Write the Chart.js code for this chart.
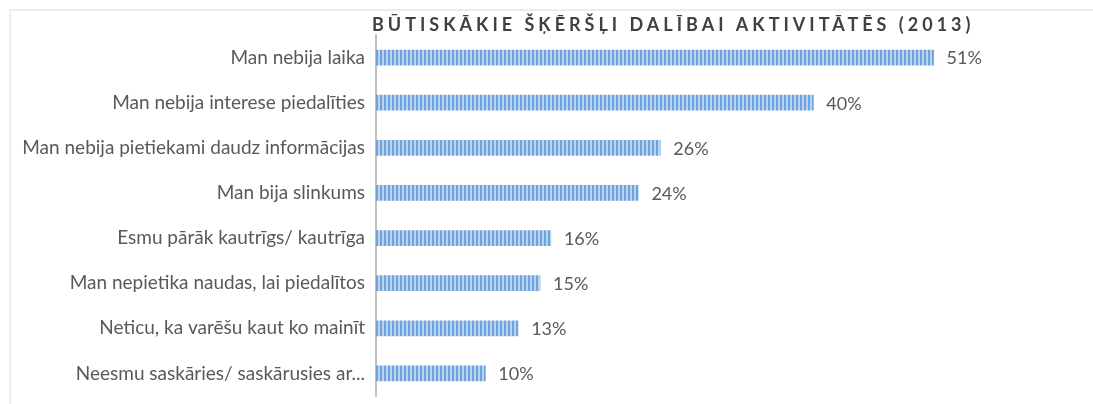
<!DOCTYPE html>
<html>
<head>
<meta charset="utf-8">
<script src="https://cdn.jsdelivr.net/npm/chart.js@4"></script>
<style>
    html, body { margin: 0; padding: 0; background: #fff; }
    #wrap { position: relative; width: 1093px; height: 404px; overflow: hidden; }
    #frame { position: absolute; left: 9px; top: 9px; width: 1200px; height: 500px; border-left: 2px solid #ececec; border-top: 2px solid #ececec; }
    canvas { position: absolute; left: 0; top: 0; }
</style>
</head>
<body>
<div id="wrap">
    <div id="frame"></div>
    <canvas id="barChart" width="1093" height="404"></canvas>
</div>
<script>
// Dati
const chartTitle = 'BŪTISKĀKIE ŠĶĒRŠĻI DALĪBAI AKTIVITĀTĒS (2013)';
const categories = [
    'Man nebija laika',
    'Man nebija interese piedalīties',
    'Man nebija pietiekami daudz informācijas',
    'Man bija slinkums',
    'Esmu pārāk kautrīgs/ kautrīga',
    'Man nepietika naudas, lai piedalītos',
    'Neticu, ka varēšu kaut ko mainīt',
    'Neesmu saskāries/ saskārusies ar...'
];
const values = [51, 40, 26, 24, 16, 15, 13, 10];

const labelColor = '#595959';
const fontFamily = 'Lato, "Open Sans", sans-serif';

// svītrains raksts stabiņiem
function makeStripes() {
    const c = document.createElement('canvas');
    c.width = 4;
    c.height = 1;
    const g = c.getContext('2d');
    g.fillStyle = '#6fa3de';
    g.fillRect(0, 0, 2, 1);
    g.fillStyle = '#bad3f0';
    g.fillRect(2, 0, 2, 1);
    return g.createPattern(c, 'repeat');
}

const titlePlugin = {
    id: 'spacedTitle',
    afterDraw(chart) {
        const ctx = chart.ctx;
        ctx.save();
        ctx.font = 'bold 18px ' + fontFamily;
        ctx.letterSpacing = '4px';
        ctx.fillStyle = '#404040';
        ctx.textAlign = 'left';
        ctx.textBaseline = 'middle';
        ctx.fillText(chartTitle, chart.chartArea.left - 4, 25);
        ctx.restore();
    }
};

const valueLabels = {
    id: 'valueLabels',
    afterDatasetsDraw(chart) {
        const ctx = chart.ctx;
        const meta = chart.getDatasetMeta(0);
        ctx.save();
        ctx.font = '18px ' + fontFamily;
        ctx.fillStyle = labelColor;
        ctx.textAlign = 'left';
        ctx.textBaseline = 'middle';
        meta.data.forEach((bar, i) => {
            ctx.fillText(values[i] + '%', bar.x + 13, bar.y + 1);
        });
        ctx.restore();
    }
};

const ctx = document.getElementById('barChart').getContext('2d');
new Chart(ctx, {
    type: 'bar',
    data: {
        labels: categories,
        datasets: [{
            data: values,
            backgroundColor: makeStripes(),
            borderWidth: 0,
            barThickness: 15
        }]
    },
    options: {
        indexAxis: 'y',
        responsive: false,
        animation: false,
        layout: {
            padding: { top: 35, bottom: 8, left: 0, right: 61 }
        },
        scales: {
            x: {
                display: false,
                min: 0,
                max: 60
            },
            y: {
                afterFit(scale) {
                    scale.width = 376;
                    scale.paddingTop = 0;
                    scale.paddingBottom = 0;
                },
                grid: { display: false, drawTicks: false },
                border: { display: true, color: '#c0c0c0', width: 2 },
                ticks: {
                    color: labelColor,
                    padding: 11,
                    font: { family: fontFamily, size: 19 }
                }
            }
        },
        plugins: {
            legend: { display: false },
            title: { display: false },
            tooltip: { enabled: false }
        }
    },
    plugins: [titlePlugin, valueLabels]
});
</script>
</body>
</html>
